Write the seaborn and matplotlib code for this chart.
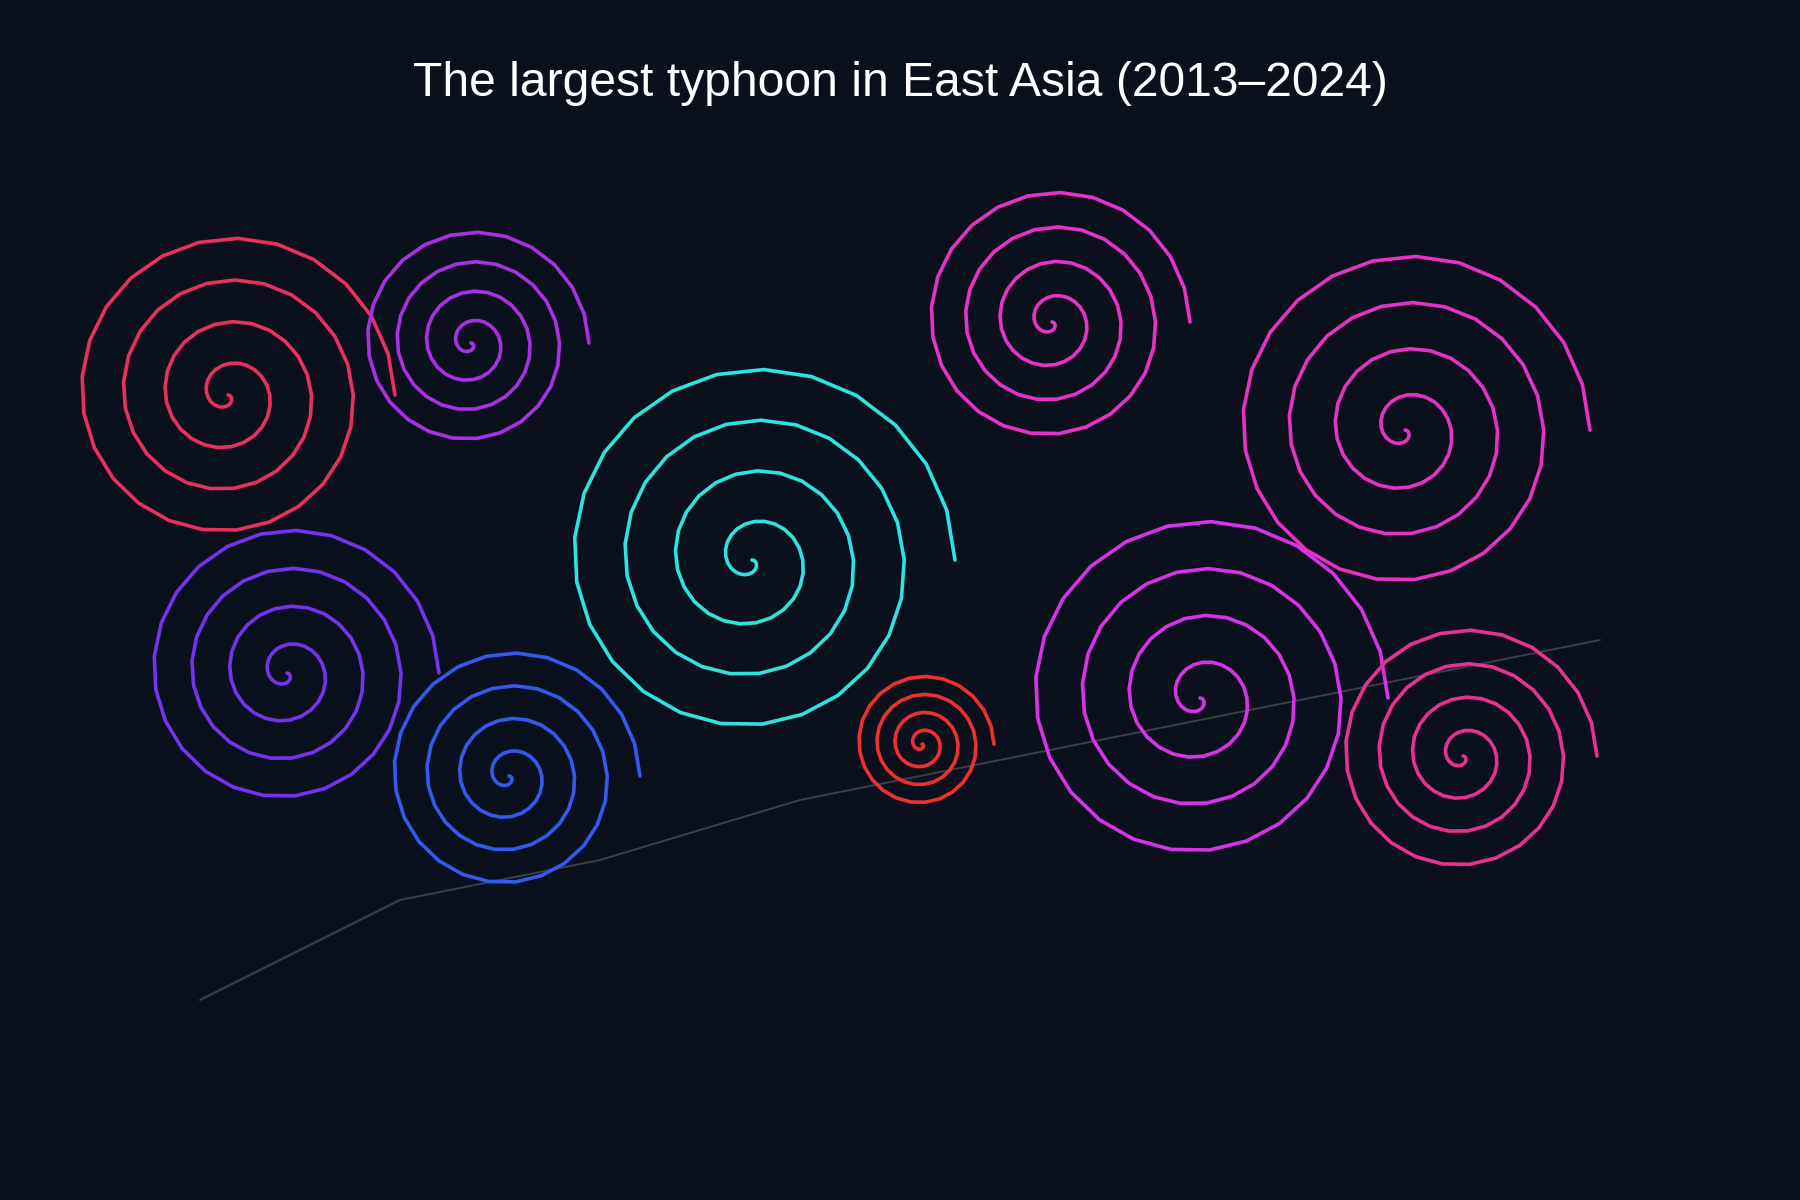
import numpy as np
import pandas as pd
import matplotlib
matplotlib.use("Agg")
import matplotlib.pyplot as plt
import seaborn as sns

TITLE = "The largest typhoon in East Asia (2013–2024)"

# ---- data -------------------------------------------------------------
storm_id = ["T01", "T02", "T03", "T04", "T05", "T06", "T07", "T08", "T09", "T10"]
# layout position of each spiral centre (layout units, y grows downward)
center_x = [228, 471, 287, 509, 752, 922, 1052, 1405, 1200, 1463]
center_y = [395, 343, 673, 776, 560, 744, 322, 430, 698, 756]
# outer radius of each spiral (storm size)
outer_radius = [167, 118, 152, 131, 203, 72, 138, 185, 188, 134]
storm_colors = ["#e8305f", "#a630e2", "#7332ec", "#3259ec", "#2ee2de",
                "#ec3030", "#e632c8", "#e432c2", "#d632e8", "#e6328f"]

# faint trend line
trend_x = [200, 400, 600, 800, 1000, 1200, 1400, 1600]
trend_y = [1000, 900, 860, 800, 760, 720, 680, 640]

TURNS = 4
STEPS = 100

# ---- build spiral table ---------------------------------------------
rows = []
t = np.linspace(0, 2 * np.pi * TURNS, STEPS + 1)
for sid, cx, cy, R in zip(storm_id, center_x, center_y, outer_radius):
    r = R * t / t[-1]
    for i, (tt, rr) in enumerate(zip(t, r)):
        rows.append({"storm": sid, "order": i,
                     "x": cx + rr * np.cos(tt), "y": cy + rr * np.sin(tt)})
spirals = pd.DataFrame(rows)
trend = pd.DataFrame({"x": trend_x, "y": trend_y})

# ---- draw -----------------------------------------------------------
BG = "#0b111c"
sns.set_theme(style="dark", rc={"figure.facecolor": BG, "axes.facecolor": BG})
plt.rcParams["font.family"] = ["Liberation Sans", "DejaVu Sans"]

fig = plt.figure(figsize=(18, 12), dpi=100)
ax = fig.add_axes([0, 0, 1, 1])
ax.set_facecolor(BG)

sns.lineplot(data=trend, x="x", y="y", ax=ax, color="#3a3f48", lw=1.4,
             sort=False, estimator=None, legend=False)

sns.lineplot(data=spirals, x="x", y="y", hue="storm", units="storm",
             palette=dict(zip(storm_id, storm_colors)), estimator=None,
             sort=False, legend=False, lw=2.6, ax=ax,
             solid_capstyle="round", solid_joinstyle="miter")

ax.set_xlim(0, 1800)
ax.set_ylim(1200, 0)
ax.set_axis_off()

fig.text(0.5, 1 - 96.5 / 1200, TITLE, ha="center", va="baseline",
         fontsize=34.6, color="white")

fig.savefig("out.png", dpi=100, facecolor=BG)
